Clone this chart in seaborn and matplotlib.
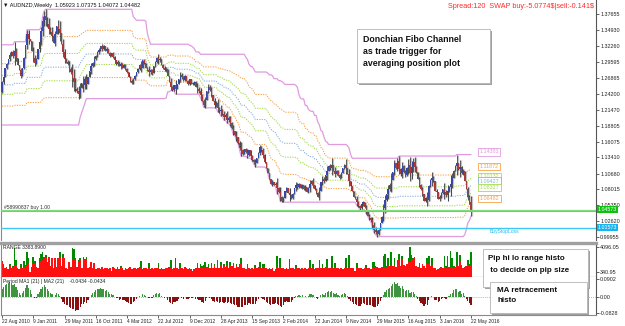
import numpy as np
import pandas as pd
import seaborn as sns
import matplotlib
matplotlib.use("Agg")
import matplotlib.pyplot as plt
from matplotlib.patches import Rectangle

sns.set_theme(style="white")
plt.rcParams['font.family'] = ['Liberation Sans', 'DejaVu Sans']

# weekly closes AUDNZD, 22 Aug 2010 .. 22 May 2016
close = [
    1.262, 1.270, 1.285, 1.292, 1.300, 1.308, 1.312, 1.306, 1.314, 1.302,
    1.290, 1.282, 1.272, 1.285, 1.302, 1.325, 1.342, 1.334, 1.331, 1.314,
    1.302, 1.294, 1.300, 1.318, 1.330, 1.348, 1.364, 1.374, 1.366, 1.360,
    1.352, 1.346, 1.340, 1.328, 1.342, 1.356, 1.352, 1.344, 1.326, 1.312,
    1.300, 1.296, 1.292, 1.284, 1.278, 1.268, 1.262, 1.250, 1.246, 1.242,
    1.252, 1.260, 1.256, 1.266, 1.258, 1.270, 1.280, 1.288, 1.294, 1.300,
    1.306, 1.312, 1.316, 1.322, 1.318, 1.322, 1.314, 1.318, 1.310, 1.306,
    1.310, 1.304, 1.298, 1.292, 1.296, 1.288, 1.292, 1.286, 1.290, 1.284,
    1.278, 1.270, 1.264, 1.260, 1.266, 1.272, 1.278, 1.284, 1.290, 1.286,
    1.298, 1.294, 1.286, 1.282, 1.278, 1.282, 1.276, 1.288, 1.296, 1.302,
    1.298, 1.300, 1.290, 1.286, 1.282, 1.284, 1.272, 1.262, 1.254, 1.248,
    1.256, 1.250, 1.258, 1.266, 1.274, 1.270, 1.265, 1.272, 1.264, 1.258,
    1.266, 1.260, 1.258, 1.262, 1.254, 1.250, 1.246, 1.240, 1.230, 1.222,
    1.232, 1.246, 1.254, 1.248, 1.240, 1.230, 1.222, 1.226, 1.218, 1.212,
    1.214, 1.208, 1.202, 1.206, 1.198, 1.200, 1.192, 1.184, 1.178, 1.172,
    1.168, 1.158, 1.150, 1.146, 1.140, 1.148, 1.144, 1.138, 1.146, 1.136,
    1.130, 1.126, 1.124, 1.134, 1.142, 1.152, 1.146, 1.138, 1.126, 1.116,
    1.108, 1.098, 1.090, 1.092, 1.088, 1.090, 1.082, 1.076, 1.068, 1.060,
    1.066, 1.078, 1.082, 1.074, 1.070, 1.066, 1.072, 1.082, 1.088, 1.084,
    1.090, 1.082, 1.088, 1.080, 1.084, 1.076, 1.082, 1.090, 1.094, 1.088,
    1.080, 1.074, 1.068, 1.078, 1.092, 1.098, 1.094, 1.104, 1.112, 1.120,
    1.116, 1.122, 1.112, 1.106, 1.112, 1.104, 1.100, 1.108, 1.116, 1.122,
    1.116, 1.106, 1.094, 1.086, 1.078, 1.068, 1.064, 1.058, 1.052, 1.048,
    1.055, 1.058, 1.050, 1.042, 1.036, 1.032, 1.028, 1.020, 1.012, 1.008,
    1.004, 1.012, 1.024, 1.034, 1.048, 1.062, 1.072, 1.080, 1.088, 1.096,
    1.110, 1.124, 1.116, 1.128, 1.114, 1.106, 1.120, 1.110, 1.104, 1.116,
    1.122, 1.108, 1.118, 1.126, 1.118, 1.110, 1.098, 1.088, 1.080, 1.072,
    1.060, 1.066, 1.062, 1.086, 1.096, 1.100, 1.094, 1.078, 1.076, 1.064,
    1.068, 1.074, 1.080, 1.076, 1.070, 1.078, 1.084, 1.090, 1.100, 1.112,
    1.120, 1.124, 1.114, 1.118, 1.108, 1.112, 1.094, 1.080, 1.068, 1.05923,
    1.04482,
]

# weekly high-low range in pips (histogram panel)
range_pips = [
    200, 150, 90, 110, 85, 150, 95, 120, 395, 220,
    100, 85, 160, 95, 200, 140, 330, 240, 34.095, 110,
    260, 200, 110, 90, 250, 300, 330, 260, 290, 180,
    260, 120, 240, 100, 250, 110, 240, 330, 120, 300,
    240, 100, 85, 190, 110, 395, 380, 240, 110, 210,
    250, 90, 260, 225, 260, 100, 110, 190, 90, 170,
    80, 100, 95, 85, 110, 75, 90, 100, 80, 95,
    45, 105, 90, 80, 110, 75, 120, 90, 70, 100,
    85, 95, 110, 80, 100, 90, 75, 95, 110, 195,
    80, 95, 90, 75, 170, 85, 100, 80, 95, 90,
    170, 85, 100, 75, 80, 95, 90, 110, 210, 85,
    95, 240, 100, 85, 170, 95, 80, 105, 90, 75,
    100, 85, 50, 80, 90, 170, 100, 160, 120, 140,
    180, 110, 150, 100, 170, 90, 160, 95, 220, 100,
    180, 90, 160, 110, 200, 95, 180, 120, 170, 90,
    160, 110, 150, 240, 100, 90, 85, 160, 95, 80,
    100, 85, 140, 95, 110, 180, 100, 160, 150, 90,
    85, 95, 80, 90, 50, 85, 270, 95, 245, 100,
    90, 85, 95, 80, 225, 90, 100, 85, 140, 90,
    95, 80, 90, 85, 95, 80, 100, 210, 90, 160,
    85, 95, 90, 210, 100, 160, 90, 110, 225, 100,
    95, 275, 100, 170, 90, 100, 80, 95, 85, 90,
    245, 100, 290, 95, 90, 100, 55, 165, 95, 90,
    100, 85, 95, 140, 90, 100, 85, 185, 180, 120,
    110, 95, 100, 110, 275, 310, 120, 240, 130, 330,
    120, 240, 110, 220, 310, 130, 275, 140, 120, 160,
    250, 409.605, 290, 240, 260, 120, 110, 170, 95, 150,
    120, 90, 245, 270, 130, 240, 100, 90, 60, 85,
    95, 110, 90, 275, 120, 270, 110, 354, 245, 130,
    110, 340, 120, 290, 140, 100, 110, 120, 220, 150,
    338.389,
]

# 24 bars just before the visible window, they only feed the channel and the MA
pre_close = [1.318, 1.305, 1.290, 1.272, 1.255, 1.240, 1.228, 1.222, 1.215, 1.208,
             1.212, 1.220, 1.214, 1.206, 1.212, 1.218, 1.205, 1.196, 1.200, 1.210,
             1.218, 1.226, 1.234, 1.245]
pre_high = [1.3245, 1.3150, 1.3000, 1.2850, 1.2650, 1.2500, 1.2380, 1.2320, 1.2250, 1.2180,
            1.2220, 1.2300, 1.2240, 1.2160, 1.2220, 1.2280, 1.2200, 1.2080, 1.2100, 1.2180,
            1.2260, 1.2340, 1.2420, 1.2520]
pre_low = [1.3050, 1.2980, 1.2820, 1.2640, 1.2470, 1.2320, 1.2200, 1.2140, 1.2070, 1.2000,
           1.2040, 1.2120, 1.2060, 1.1980, 1.2040, 1.2100, 1.1980, 1.1920, 1.1890, 1.2020,
           1.2100, 1.2180, 1.2260, 1.2360]

date_labels = ["22 Aug 2010", "9 Jan 2011", "29 May 2011", "16 Oct 2011", "4 Mar 2012",
               "22 Jul 2012", "9 Dec 2012", "28 Apr 2013", "15 Sep 2013", "2 Feb 2014",
               "22 Jun 2014", "9 Nov 2014", "29 Mar 2015", "16 Aug 2015", "3 Jan 2016",
               "22 May 2016"]
price_ticks = [1.37655, 1.34930, 1.32260, 1.29595, 1.26865, 1.24200, 1.21470, 1.18805,
               1.16075, 1.13410, 1.10680, 1.08015, 1.05350, 1.02620, 0.99955]
fib_ratios = [0.236, 0.382, 0.5, 0.618, 0.764]
fib_colors = ["#f7a24b", "#a6dc4c", "#8db3dc", "#a6dc4c", "#f7a24b"]
pink = "#e09be0"
level_text = ["1.14383", "1.11872", "1.10132", "1.09427", "1.08327", "1.06482"]
level_colors = [pink, "#f7a24b", "#a6dc4c", "#8db3dc", "#a6dc4c", "#f7a24b"]
order_price = 1.04573
stop_price = 1.01573

PERIOD = 56
MA_LEN = 21

# ---- build OHLC ----
n = len(close)
wk = np.arange(n)
c = np.array(close)
o = np.array([pre_close[-1]] + close[:-1])
pts = np.array(range_pips) * 10.0
span = pts / 1e5
body = np.abs(c - o)
extra = np.clip(span - body, 0, None)
hi = np.maximum(o, c) + extra / 2
lo = np.minimum(o, c) - extra / 2

all_hi = pd.Series(pre_high + list(hi))
all_lo = pd.Series(pre_low + list(lo))
upper = all_hi.rolling(PERIOD, min_periods=1).max().values[-n:]
lower = all_lo.rolling(PERIOD, min_periods=1).min().values[-n:]

all_c = pd.Series(pre_close + close)
sma = all_c.rolling(MA_LEN, min_periods=1).mean().values[-n:]
ma_diff = c - sma

rng_mid = pd.Series(pts).rolling(12, min_periods=1).median().values
rng_red = np.minimum(pts, rng_mid)

# ---- figure ----
W, H = 625, 326
fig = plt.figure(figsize=(W / 100, H / 100), dpi=100)
fig.patch.set_facecolor("white")
L, AW = 1 / W, 595 / W
ax = fig.add_axes([L, 1 - 240 / H, AW, 240 / H])
ax_r = fig.add_axes([L, 1 - 277 / H, AW, 34 / H])
ax_m = fig.add_axes([L, 1 - 315 / H, AW, 38 / H])
xlim = (-0.64, 380.0)

# candles
ax.vlines(wk + 0.55, lo, hi, color="#c4c4c4", lw=0.9, zorder=2)
ax.vlines(wk, lo, hi, color="black", lw=0.45, zorder=3)
up = c >= o
ax.bar(wk, np.maximum(body, 0.0008), bottom=np.minimum(o, c), width=0.85,
       color=np.where(up, "#3848a8", "#a83a3a"), linewidth=0, zorder=4)

# donchian channel + fibo levels
sns.lineplot(x=wk, y=upper, ax=ax, color=pink, linewidth=0.9, errorbar=None, zorder=1)
sns.lineplot(x=wk, y=lower, ax=ax, color=pink, linewidth=0.9, errorbar=None, zorder=1)
for f, col in zip(fib_ratios, fib_colors):
    lvl = upper - f * (upper - lower)
    sns.lineplot(x=wk, y=lvl, ax=ax, color=col, linewidth=0.75, errorbar=None,
                 linestyle=(0, (1.2, 1.2)), zorder=1)

ax.axhline(close[-1] - 0.0006, color="#f08a78", lw=0.8, zorder=5)
ax.axhline(order_price, color="#7ade7a", lw=0.9, zorder=6)
ax.axhline(stop_price, color="#3cc8f4", lw=1.0, zorder=5)

for t, col in zip(level_text, level_colors):
    ax.text(305.5, float(t), t, fontsize=3.9, color=col, va="center", ha="left", zorder=7,
            bbox=dict(boxstyle="square,pad=0.25", fc="white", ec=col, lw=0.6))

ax.set_xlim(xlim)
ax.set_ylim(0.99461, 1.40021)
ax.yaxis.tick_right()
ax.set_yticks(price_ticks)
ax.set_yticklabels([f"{v:.5f}" for v in price_ticks])
ax.set_xticks([])
ytr = ax.get_yaxis_transform()
ax.text(1.003, order_price, f"{order_price:.5f}", transform=ytr, fontsize=3.8, color="white",
        va="center", ha="left", bbox=dict(boxstyle="square,pad=0.2", fc="#10c010", ec="none"))
ax.text(1.003, stop_price, f"{stop_price:.5f}", transform=ytr, fontsize=3.8, color="white",
        va="center", ha="left", bbox=dict(boxstyle="square,pad=0.2", fc="#18b4f0", ec="none"))

# range histogram
r_bot = -410
ax_r.bar(wk, pts - r_bot, bottom=r_bot, width=1.0, color="#008a00", linewidth=0)
ax_r.bar(wk, rng_red - r_bot, bottom=r_bot, width=1.0, color="#ff1010", linewidth=0)
ax_r.set_xlim(xlim)
ax_r.set_ylim(r_bot, 4697)
ax_r.yaxis.tick_right()
ax_r.set_yticks([4096.05, 340.95])
ax_r.set_yticklabels(["4096.05", "340.95"])
ax_r.set_xticks([])

# MA retracement histogram
ax_m.axhline(0, color="#a0a0a0", lw=0.6, ls=(0, (1, 1.5)), zorder=0)
ax_m.bar(wk, ma_diff, width=0.75, color=np.where(ma_diff >= 0, "#3f943f", "#8a1010"), linewidth=0)
ax_m.set_xlim(xlim)
ax_m.set_ylim(-0.0930, 0.1004)
ax_m.yaxis.tick_right()
ax_m.set_yticks([0.0902, 0.0, -0.0828])
ax_m.set_yticklabels(["0.0902", "0.00", "-0.0828"])
ax_m.set_xticks(np.arange(len(date_labels)) * 20)
ax_m.set_xticklabels(date_labels)
for lb in ax_m.get_xticklabels():
    lb.set_ha("left")

for a in (ax, ax_r, ax_m):
    a.set_facecolor("white")
    a.tick_params(axis="y", labelsize=3.9, length=1.8, width=0.5, pad=1.2, colors="#222222")
    a.tick_params(axis="x", labelsize=3.5, length=2, width=0.5, pad=1, colors="#222222", bottom=True)
    for s in a.spines.values():
        s.set_color("#8a8a8a")
        s.set_linewidth(0.8)
    a.spines["right"].set_color("#555555")
ax.spines["bottom"].set_visible(False)
ax.spines["top"].set_visible(False)
ax_r.spines["top"].set_linewidth(2.4)
ax_r.spines["top"].set_color("#a0a0a0")
ax_r.spines["bottom"].set_color("#333333")
ax_m.spines["top"].set_visible(False)

# texts
def px(x, y):
    return x / W, 1 - y / H

fig.text(*px(3, 5), "\u25bc AUDNZD,Weekly  1.05923 1.07375 1.04072 1.04482", fontsize=4,
         va="center", ha="left", color="#111111")
fig.text(*px(594, 7), r"Spread:120  SWAP buy:-5.0774\$|sell:-0.141\$", fontsize=5.2,
         va="center", ha="right", color="#ff2a2a")
fig.text(*px(4, 207), "#58990837 buy 1.00", fontsize=3.6, va="center", ha="left", color="#333333")
fig.text(*px(490, 231), "BuyStopLoss", fontsize=3.6, va="center", ha="left", color="#20b8f0")
fig.text(*px(3, 247.5), "RANGE 3383.8900", fontsize=3.6, va="center", ha="left", color="#222222")
fig.text(*px(3, 281), "Period MA1 (21) | MA2 (21)    -0.0434 -0.0434", fontsize=3.6,
         va="center", ha="left", color="#222222")


def note_box(x0, y0, x1, y1, lines, tx, ty, step, size):
    sh = Rectangle(((x0 + 2) / W, 1 - (y1 + 2) / H), (x1 - x0) / W, (y1 - y0) / H,
                   transform=fig.transFigure, fc="#a0a0a0", ec="none", zorder=20)
    bx = Rectangle((x0 / W, 1 - y1 / H), (x1 - x0) / W, (y1 - y0) / H,
                   transform=fig.transFigure, fc="white", ec="#b4b4b4", lw=0.6, zorder=21)
    fig.add_artist(sh)
    fig.add_artist(bx)
    for i, s in enumerate(lines):
        fig.text(*px(tx, ty + i * step), s, fontsize=size, weight="bold", va="center",
                 ha="left", color="#111111", zorder=22)


note_box(357, 29, 490, 83, ["Donchian Fibo Channel", "as trade trigger for",
                            "averaging position plot"], 363, 39, 12.5, 6.3)
note_box(483, 249, 588, 287, ["Pip hi lo range histo", " to decide on pip size"], 488, 258, 12, 5.8)
note_box(490, 282, 587, 313, ["MA retracement", "histo"], 497, 290, 11, 5.8)

fig.savefig("out.png", dpi=100, facecolor="white")
